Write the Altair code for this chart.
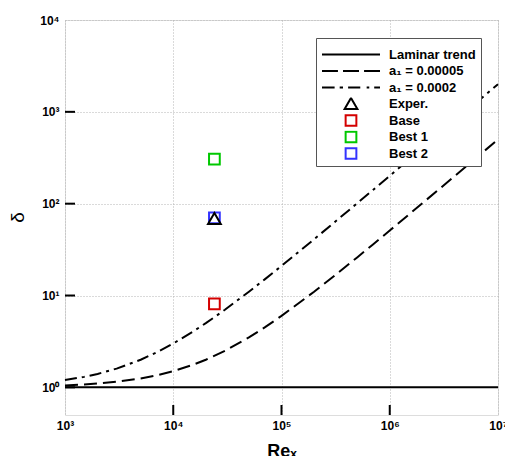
import altair as alt
import pandas as pd

# ---------------- data ----------------
re_grid = [1e3, 1.5e3, 2e3, 3e3, 5e3, 7e3, 1e4, 1.5e4, 2e4, 3e4, 5e4, 7e4,
           1e5, 2e5, 3e5, 5e5, 7e5, 1e6, 2e6, 3e6, 5e6, 7e6, 1e7]
delta_a1_small = [1.05, 1.075, 1.10, 1.15, 1.25, 1.35, 1.5, 1.75, 2.0, 2.5, 3.5, 4.5,
                  6, 11, 16, 26, 36, 51, 101, 151, 251, 351, 501]
delta_a1_large = [1.2, 1.3, 1.4, 1.6, 2.0, 2.4, 3.0, 4.0, 5.0, 7.0, 11, 15,
                  21, 41, 61, 101, 141, 201, 401, 601, 1001, 1401, 2001]
laminar_re = [1e3, 1e7]
laminar_delta = [1.0, 1.0]

pt_names = ["Base", "Best 1", "Best 2", "Exper."]
pt_re = [2.4e4, 2.4e4, 2.4e4, 2.4e4]
pt_delta = [8.1, 305, 70, 68]

line_names = ["Laminar trend", "a₁ = 0.00005", "a₁ = 0.0002"]
series_order = ["Laminar trend", "a₁ = 0.00005", "a₁ = 0.0002",
                "Exper.", "Base", "Best 1", "Best 2"]
series_colors = ["#000000", "#000000", "#000000", "#000000",
                 "#d40000", "#00c800", "#3333ff"]

x_tick_values = [1e3, 1e4, 1e5, 1e6, 1e7]
y_tick_values = [1, 10, 100, 1000, 10000]
inner_x_ticks = [1e4, 1e5, 1e6]
inner_y_ticks = [1, 10, 100, 1000]

# ---------------- styles ----------------
LINE = "M-1,0L1,0"
DASH = "M-1,0L-0.45,0M-0.275,0L0.275,0M0.45,0L1,0"
DASHDOT = "M-1,0L-0.565,0M-0.39,0L-0.275,0M-0.1,0L0.32,0M0.54,0L0.63,0M0.8,0L1,0"
TRI = "M0,-0.21L0.22,0.17L-0.22,0.17Z"
SQ = "M-0.185,-0.185L0.185,-0.185L0.185,0.185L-0.185,0.185Z"
series_shapes = [LINE, DASH, DASHDOT, TRI, SQ, SQ, SQ]
SYM = 3364  # (58 px)^2

FONT = "Liberation Sans"
W, H = 433, 395

lines_df = pd.concat([
    pd.DataFrame({"Re": laminar_re, "delta": laminar_delta, "series": line_names[0]}),
    pd.DataFrame({"Re": re_grid, "delta": delta_a1_small, "series": line_names[1]}),
    pd.DataFrame({"Re": re_grid, "delta": delta_a1_large, "series": line_names[2]}),
], ignore_index=True)
pts_df = pd.DataFrame({"Re": pt_re, "delta": pt_delta, "series": pt_names})
ytick_df = pd.DataFrame({"delta": inner_y_ticks})
xtick_df = pd.DataFrame({"Re": inner_x_ticks})

sup = "'10' + substring('⁰¹²³⁴⁵⁶⁷', round(log(datum.value)/LN10), round(log(datum.value)/LN10) + 1)"

XS = alt.Scale(type="log", domain=[1e3, 1e7], nice=False)
YS = alt.Scale(type="log", domain=[0.5, 1e4], nice=False)

XA = alt.Axis(title="Reₓ", values=x_tick_values, labelExpr=sup, grid=True,
              gridColor="#b4b4b4", gridDash=[1, 2], gridWidth=1,
              ticks=False, tickSize=0, domain=False,
              labelFont=FONT, labelFontSize=12, labelFontWeight="bold",
              labelColor="black", labelPadding=5, labelFlush=False, labelOverlap=False,
              titleFont=FONT, titleFontSize=18, titleFontWeight="bold",
              titleColor="black", titleY=27, titleBaseline="top")
YA = alt.Axis(title="δ", values=y_tick_values, labelExpr=sup, grid=True,
              gridColor="#b4b4b4", gridDash=[1, 2], gridWidth=1,
              ticks=False, tickSize=0, domain=False,
              labelFont=FONT, labelFontSize=12, labelFontWeight="bold",
              labelColor="black", labelPadding=6, labelFlush=False, labelOverlap=False,
              titleFont=FONT, titleFontSize=19, titleFontWeight="normal",
              titleColor="black", titleX=-48, titleY=197, titleAngle=270,
              titleAlign="center", titleBaseline="middle")

LEG = alt.Legend(title=" ", titleFontSize=1, titlePadding=4,
                 orient="none", legendX=251, legendY=18, direction="vertical",
                 labelFont=FONT, labelFontSize=13, labelFontWeight="bold",
                 labelColor="black", labelOffset=8, labelLimit=200,
                 symbolSize=SYM, symbolStrokeWidth=2, clipHeight=13, rowPadding=2.5,
                 padding=5, strokeColor="#555555", fillColor="white")

lines = alt.Chart(lines_df).mark_line(color="black", strokeWidth=2).encode(
    x=alt.X("Re:Q", scale=XS, axis=XA),
    y=alt.Y("delta:Q", scale=YS, axis=YA),
    strokeDash=alt.StrokeDash("series:N",
                              scale=alt.Scale(domain=line_names,
                                              range=[[1, 0], [13, 6], [12, 5, 3, 5]]),
                              legend=None),
)

points = alt.Chart(pts_df).mark_point(filled=False, size=SYM, strokeWidth=2, opacity=1).encode(
    x=alt.X("Re:Q", scale=XS, axis=XA),
    y=alt.Y("delta:Q", scale=YS, axis=YA),
    color=alt.Color("series:N", scale=alt.Scale(domain=series_order, range=series_colors),
                    legend=LEG),
    shape=alt.Shape("series:N", scale=alt.Scale(domain=series_order, range=series_shapes),
                    legend=LEG),
)

yticks = alt.Chart(ytick_df).mark_rule(color="black", strokeWidth=2).encode(
    y=alt.Y("delta:Q", scale=YS, axis=YA),
    x=alt.value(0), x2=alt.value(10),
)
xticks = alt.Chart(xtick_df).mark_rule(color="black", strokeWidth=2).encode(
    x=alt.X("Re:Q", scale=XS, axis=XA),
    y=alt.value(H), y2=alt.value(H - 10),
)

chart = alt.layer(lines, yticks, xticks, points).properties(
    width=W, height=H,
    autosize=alt.AutoSizeParams(type="none"),
    padding={"left": 65, "top": 20, "right": 7, "bottom": 41},
).configure_view(stroke="black", strokeWidth=2).configure(background="white")

chart.save("out.html", embed_options={"renderer": "svg", "actions": False})
